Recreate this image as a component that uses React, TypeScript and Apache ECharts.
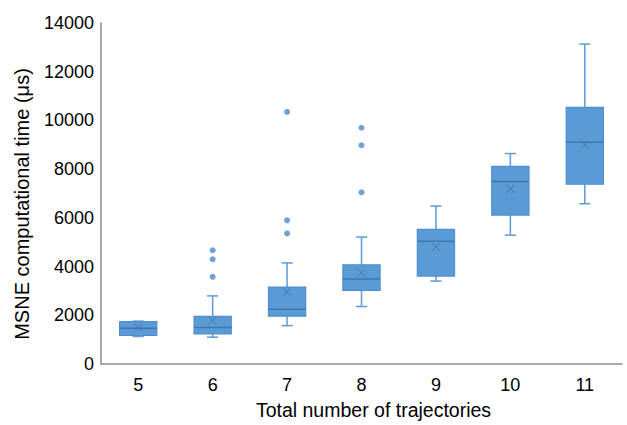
import React, { useEffect, useRef } from "react";
import * as echarts from "echarts";

const categories = ["5", "6", "7", "8", "9", "10", "11"];
const whiskerLow = [1130, 1100, 1575, 2360, 3405, 5290, 6580];
const q1 = [1170, 1235, 1965, 3025, 3610, 6115, 7380];
const median = [1465, 1495, 2250, 3490, 5035, 7490, 9105];
const q3 = [1740, 1955, 3160, 4070, 5525, 8110, 10540];
const whiskerHigh = [1760, 2795, 4150, 5210, 6485, 8640, 13135];
const means = [1495, 1780, 2970, 3745, 4805, 7190, 9005];
const outlierCategory = ["6", "6", "6", "7", "7", "7", "8", "8", "8"];
const outlierValue = [4670, 4300, 3580, 10350, 5900, 5360, 9700, 8980, 7050];
const yTitle = "MSNE computational time (μs)";
const xTitle = "Total number of trajectories";

const FONT = "Arial, 'Liberation Sans', sans-serif";
const BOX_FILL = "#5B9BD5";
const BOX_STROKE = "#4F8FCF";
const WHISKER = "#5E9BD6";
const DARK = "#3E75AE";

export default function App() {
  const ref = useRef<HTMLDivElement>(null);
  useEffect(() => {
    if (!ref.current) return;
    const chart = echarts.init(ref.current, null, { renderer: "svg" });
    const boxData = categories.map((_, i) => [
      i,
      whiskerLow[i],
      q1[i],
      median[i],
      q3[i],
      whiskerHigh[i],
      means[i],
    ]);
    const outliers = outlierCategory.map((c, i) => [categories.indexOf(c), outlierValue[i]]);

    chart.setOption({
      animation: false,
      grid: { left: 101, right: 5, top: 23, bottom: 58 },
      graphic: [
        {
          type: "text",
          x: 22,
          y: 204,
          rotation: Math.PI / 2,
          style: {
            text: yTitle,
            fill: "#000",
            fontSize: 20,
            fontFamily: FONT,
            align: "center",
            verticalAlign: "middle",
          },
        },
      ],
      xAxis: {
        type: "category",
        data: categories,
        boundaryGap: true,
        axisLine: { lineStyle: { color: "#8C8C8C", width: 1.5 } },
        axisTick: { show: false },
        axisLabel: { color: "#000", fontSize: 18, fontFamily: FONT, margin: 12 },
        name: xTitle,
        nameLocation: "middle",
        nameGap: 36,
        nameTextStyle: {
          color: "#000",
          fontSize: 19.5,
          fontFamily: FONT,
          padding: [0, 0, 0, 24],
        },
      },
      yAxis: {
        type: "value",
        min: 0,
        max: 14000,
        interval: 2000,
        splitLine: { show: false },
        axisLine: { show: true, lineStyle: { color: "#8C8C8C", width: 1.5 } },
        axisTick: { show: false },
        axisLabel: {
          color: "#000",
          fontSize: 18,
          fontFamily: FONT,
          margin: 7,
          formatter: (v: number) => String(v),
        },
      },
      series: [
        {
          type: "custom",
          data: boxData,
          encode: { x: 0, y: [1, 2, 3, 4, 5, 6] },
          renderItem: (params: any, api: any) => {
            const idx = api.value(0);
            const pLow = api.coord([idx, api.value(1)]);
            const pQ1 = api.coord([idx, api.value(2)]);
            const pMed = api.coord([idx, api.value(3)]);
            const pQ3 = api.coord([idx, api.value(4)]);
            const pHigh = api.coord([idx, api.value(5)]);
            const pMean = api.coord([idx, api.value(6)]);
            const bw = api.size([1, 0])[0] * 0.5;
            const cap = bw * 0.3;
            const cx = pMed[0];
            const m = 4;
            return {
              type: "group",
              children: [
                {
                  type: "line",
                  shape: { x1: cx, y1: pLow[1], x2: cx, y2: pQ1[1] },
                  style: { stroke: WHISKER, lineWidth: 1.5 },
                },
                {
                  type: "line",
                  shape: { x1: cx, y1: pQ3[1], x2: cx, y2: pHigh[1] },
                  style: { stroke: WHISKER, lineWidth: 1.5 },
                },
                {
                  type: "line",
                  shape: { x1: cx - cap / 2, y1: pLow[1], x2: cx + cap / 2, y2: pLow[1] },
                  style: { stroke: WHISKER, lineWidth: 1.5 },
                },
                {
                  type: "line",
                  shape: { x1: cx - cap / 2, y1: pHigh[1], x2: cx + cap / 2, y2: pHigh[1] },
                  style: { stroke: WHISKER, lineWidth: 1.5 },
                },
                {
                  type: "rect",
                  shape: { x: cx - bw / 2, y: pQ3[1], width: bw, height: pQ1[1] - pQ3[1] },
                  style: { fill: BOX_FILL, stroke: BOX_STROKE, lineWidth: 1.2 },
                },
                {
                  type: "line",
                  shape: { x1: cx - bw / 2, y1: pMed[1], x2: cx + bw / 2, y2: pMed[1] },
                  style: { stroke: DARK, lineWidth: 1.5 },
                },
                {
                  type: "line",
                  shape: { x1: cx - m, y1: pMean[1] - m, x2: cx + m, y2: pMean[1] + m },
                  style: { stroke: DARK, lineWidth: 1 },
                },
                {
                  type: "line",
                  shape: { x1: cx - m, y1: pMean[1] + m, x2: cx + m, y2: pMean[1] - m },
                  style: { stroke: DARK, lineWidth: 1 },
                },
              ],
            };
          },
        },
        {
          type: "scatter",
          data: outliers,
          symbol: "circle",
          symbolSize: 6,
          itemStyle: { color: "#4A8BCB" },
        },
      ],
    });
    return () => chart.dispose();
  }, []);
  return (
    <div
      ref={ref}
      style={{ position: "fixed", left: 0, top: 0, width: 627, height: 425, background: "#fff" }}
    />
  );
}
